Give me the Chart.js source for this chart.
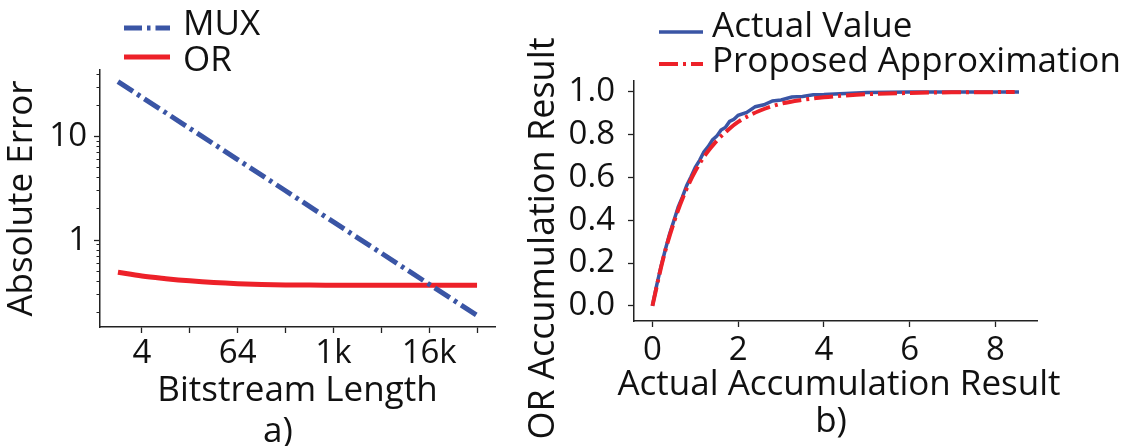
<!DOCTYPE html>
<html>
<head>
<meta charset="utf-8">
<script src="https://cdn.jsdelivr.net/npm/chart.js@4.4.1/dist/chart.umd.min.js"></script>
<style>
html, body { margin: 0; padding: 0; background: #fff; }
#wrap { position: relative; width: 1131px; height: 446px; overflow: hidden; font-family: 'Open Sans', sans-serif; font-weight: 500; color: #111; }
canvas { position: absolute; top: 0; }
#left { left: 0; }
#right { left: 520px; }
.txt { position: absolute; font-size: 35px; line-height: 35px; white-space: nowrap; }
.swatch { position: absolute; overflow: visible; }
</style>
</head>
<body>
<div id="wrap">
  <canvas id="left" width="520" height="446"></canvas>
  <canvas id="right" width="611" height="446"></canvas>
  <div class="txt" style="left:539px;top:364px;width:600px;text-align:center">Actual Accumulation Result</div>
  <div class="txt" style="left:228px;top:411px;width:100px;text-align:center">a)</div>
  <div class="txt" style="left:781px;top:401px;width:100px;text-align:center">b)</div>
</div>
<script>
// a) error vs bitstream length
const bitLengths = [2, 4, 8, 16, 32, 64, 128, 256, 512, 1024, 2048, 4096, 8192, 16384, 32768, 65536];
const muxError = [34.0, 24.0, 17.0, 12.0, 8.5, 6.0, 4.25, 3.0, 2.12, 1.5, 1.06, 0.75, 0.53, 0.375, 0.265, 0.188];
const orError = [0.49, 0.45, 0.425, 0.405, 0.39, 0.38, 0.374, 0.37, 0.368, 0.367, 0.366, 0.366, 0.366, 0.366, 0.366, 0.366];
const lenTicks = [4, 16, 64, 256, 1024, 4096, 16384, 65536];
const lenLabels = ['4', '', '64', '', '1k', '', '16k', ''];
const errTicks = [1, 10];
const errLabels = ['1', '10'];
const errMinorTicks = [0.2, 0.3, 0.4, 0.5, 0.6, 0.7, 0.8, 0.9, 2, 3, 4, 5, 6, 7, 8, 9, 20, 30, 40];

// b) OR accumulation
const actualX = [0, 0.1, 0.2, 0.3, 0.4, 0.5, 0.6, 0.7, 0.8, 0.9, 1.0, 1.1, 1.2, 1.3, 1.4, 1.5, 1.6, 1.7, 1.8, 1.9, 2.0,
    2.2, 2.4, 2.6, 2.8, 3.0, 3.25, 3.5, 3.75, 4.0, 4.5, 5.0, 5.5, 6.0, 7.0, 8.0, 8.55];
const actualY = [0.000, 0.097, 0.184, 0.262, 0.336, 0.398, 0.461, 0.509, 0.563, 0.603, 0.648, 0.680, 0.719, 0.744, 0.776, 0.793, 0.822, 0.834, 0.862, 0.872, 0.891,
    0.904, 0.931, 0.940, 0.958, 0.962, 0.976, 0.979, 0.987, 0.988, 0.993, 0.997, 0.998, 0.999, 1.000, 1.000, 1.000];
const approxX = [0, 0.25, 0.5, 0.75, 1.0, 1.25, 1.5, 1.75, 2.0, 2.5, 3.0, 3.5, 4.0, 4.5, 5.0, 6.0, 7.0, 8.0, 8.45];
const approxY = [0.0, 0.22, 0.39, 0.525, 0.63, 0.71, 0.772, 0.82, 0.86, 0.912, 0.945, 0.963, 0.975, 0.983, 0.989, 0.995, 0.998, 0.999, 1.0];
const accXTicks = [0, 2, 4, 6, 8];
const accYTicks = [0, 0.2, 0.4, 0.6, 0.8, 1.0];

const BLUE = '#3a55a5';
const RED = '#ed2129';
const INK = '#111';
const AXIS = '#222';

Chart.defaults.font.family = "'Open Sans', sans-serif";
Chart.defaults.font.weight = 500;
Chart.defaults.color = INK;

function points(xs, ys) {
    return xs.map((x, i) => ({ x: x, y: ys[i] }));
}

function tickFont() {
    return { size: 33, lineHeight: 1 };
}

function titleFont(size) {
    return { size: size || 35, lineHeight: 1.2 };
}

// legend drawn as html next to the canvas, built from the datasets
function addLegend(chart, rows) {
    const wrap = document.getElementById('wrap');
    const ns = 'http://www.w3.org/2000/svg';
    chart.data.datasets.forEach((ds, i) => {
        const r = rows[i];
        const svg = document.createElementNS(ns, 'svg');
        svg.setAttribute('class', 'swatch');
        svg.setAttribute('width', r.len);
        svg.setAttribute('height', 12);
        svg.style.left = r.x + 'px';
        svg.style.top = (r.lineY - 6) + 'px';
        const line = document.createElementNS(ns, 'line');
        line.setAttribute('x1', 0);
        line.setAttribute('x2', r.len);
        line.setAttribute('y1', 6);
        line.setAttribute('y2', 6);
        line.setAttribute('stroke', ds.borderColor);
        line.setAttribute('stroke-width', ds.borderWidth);
        if (ds.borderDash) line.setAttribute('stroke-dasharray', ds.borderDash.join(' '));
        svg.appendChild(line);
        wrap.appendChild(svg);

        const t = document.createElement('div');
        t.className = 'txt';
        t.textContent = ds.label;
        t.style.left = r.textX + 'px';
        t.style.top = (r.textCY - 18.6) + 'px';
        wrap.appendChild(t);
    });
}

const leftChart = new Chart(document.getElementById('left'), {
    type: 'scatter',
    data: {
        datasets: [{
            label: 'MUX',
            data: points(bitLengths, muxError),
            showLine: true,
            borderColor: BLUE,
            borderWidth: 5,
            borderDash: [18, 5, 3.5, 5],
            pointRadius: 0
        }, {
            label: 'OR',
            data: points(bitLengths, orError),
            showLine: true,
            borderColor: RED,
            borderWidth: 5,
            pointRadius: 0,
            cubicInterpolationMode: 'monotone'
        }]
    },
    options: {
        responsive: false,
        animation: false,
        devicePixelRatio: 1,
        layout: { padding: { left: 0, top: 70, right: 25, bottom: 0 } },
        plugins: { legend: { display: false }, tooltip: { enabled: false } },
        scales: {
            x: {
                type: 'logarithmic',
                position: 'bottom',
                min: Math.pow(2, 0.25),
                max: Math.pow(2, 16.75),
                bounds: 'data',
                afterBuildTicks: (a) => { a.ticks = lenTicks.map(v => ({ value: v })); },
                afterFit: (a) => { a.height = 119; },
                ticks: { autoSkip: false, maxRotation: 0, font: tickFont(), color: INK, padding: 4.5,
                    callback: (v, i) => lenLabels[i] },
                grid: { drawOnChartArea: false, tickLength: 6, tickColor: AXIS, tickWidth: 1.3 },
                border: { color: AXIS, width: 1.5 },
                title: { display: true, text: 'Bitstream Length', font: titleFont(), color: INK, padding: { top: 0, bottom: 34 } }
            },
            y: {
                type: 'logarithmic',
                position: 'left',
                weight: 1,
                min: 0.145,
                max: 44,
                bounds: 'data',
                afterBuildTicks: (a) => { a.ticks = errTicks.map(v => ({ value: v })); },
                afterFit: (a) => { a.width = 100; },
                ticks: { autoSkip: false, font: tickFont(), color: INK, padding: 7,
                    callback: (v, i) => errLabels[i] },
                grid: { drawOnChartArea: false, tickLength: 6, tickColor: AXIS, tickWidth: 1.3 },
                border: { color: AXIS, width: 1.5 },
                title: { display: true, text: 'Absolute Error', font: titleFont(), color: INK, padding: { top: 1, bottom: 0 } }
            },
            yMinor: {
                type: 'logarithmic',
                position: 'left',
                weight: 0,
                min: 0.145,
                max: 44,
                bounds: 'data',
                afterBuildTicks: (a) => { a.ticks = errMinorTicks.map(v => ({ value: v })); },
                afterFit: (a) => { a.width = 0; },
                ticks: { display: false },
                grid: { drawOnChartArea: false, tickLength: 3.5, tickColor: AXIS, tickWidth: 1 },
                border: { display: false }
            }
        }
    }
});

const rightChart = new Chart(document.getElementById('right'), {
    type: 'scatter',
    data: {
        datasets: [{
            label: 'Actual Value',
            data: points(actualX, actualY),
            showLine: true,
            borderColor: BLUE,
            borderWidth: 3.5,
            pointRadius: 0,
            order: 1
        }, {
            label: 'Proposed Approximation',
            data: points(approxX, approxY),
            showLine: true,
            borderColor: RED,
            borderWidth: 4,
            borderDash: [19, 5, 3, 5],
            pointRadius: 0,
            cubicInterpolationMode: 'monotone',
            order: 0
        }]
    },
    options: {
        responsive: false,
        animation: false,
        devicePixelRatio: 1,
        layout: { padding: { left: 0, top: 81, right: 94, bottom: 0 } },
        plugins: { legend: { display: false }, tooltip: { enabled: false } },
        scales: {
            x: {
                type: 'linear',
                position: 'bottom',
                min: -0.43,
                max: 8.97,
                bounds: 'data',
                afterBuildTicks: (a) => { a.ticks = accXTicks.map(v => ({ value: v })); },
                afterFit: (a) => { a.height = 125; },
                ticks: { autoSkip: false, maxRotation: 0, font: tickFont(), color: INK, padding: 7.5,
                    callback: (v) => String(v) },
                grid: { drawOnChartArea: false, tickLength: 6, tickColor: AXIS, tickWidth: 1.3 },
                border: { color: AXIS, width: 1.5 },
                // the title is wider than the axis, so it is set as html above
                title: { display: false }
            },
            y: {
                type: 'linear',
                position: 'left',
                min: -0.071,
                max: 1.051,
                bounds: 'data',
                afterBuildTicks: (a) => { a.ticks = accYTicks.map(v => ({ value: v })); },
                afterFit: (a) => { a.width = 114; },
                ticks: { autoSkip: false, font: tickFont(), color: INK, padding: 13,
                    callback: (v) => Number(v).toFixed(1) },
                grid: { drawOnChartArea: false, tickLength: 6, tickColor: AXIS, tickWidth: 1.3 },
                border: { color: AXIS, width: 1.5 },
                // trailing spaces push the label down like in the original
                title: { display: true, text: 'OR Accumulation Result        ', font: titleFont(36), color: INK, padding: { top: 2.4, bottom: 0 } }
            }
        }
    }
});

addLegend(leftChart, [
    { x: 124, len: 46, lineY: 28, textX: 183, textCY: 22.5 },
    { x: 124, len: 46, lineY: 57, textX: 183, textCY: 59 }
]);
addLegend(rightChart, [
    { x: 659, len: 44, lineY: 32, textX: 712, textCY: 25 },
    { x: 659, len: 44, lineY: 64, textX: 712, textCY: 60 }
]);
</script>
</body>
</html>
